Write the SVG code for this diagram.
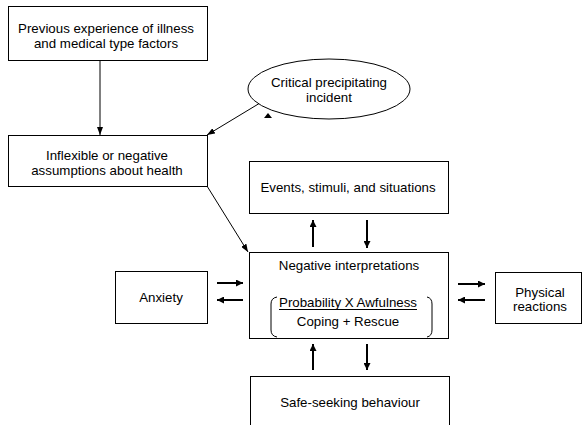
<svg xmlns="http://www.w3.org/2000/svg" width="583" height="425" viewBox="0 0 583 425">
<defs>
<marker id="thin" viewBox="0 0 8 6" refX="8" refY="3" markerWidth="8" markerHeight="6" markerUnits="userSpaceOnUse" orient="auto"><path d="M0,0 L8,3 L0,6 Z" fill="#000"/></marker>
<marker id="thick" viewBox="0 0 7 7" refX="7" refY="3.5" markerWidth="7" markerHeight="7" markerUnits="userSpaceOnUse" orient="auto"><path d="M0,0 L7,3.5 L0,7 Z" fill="#000"/></marker>
</defs>
<style>
.box{fill:#fff;stroke:#000;stroke-width:1}
text{font-family:"Liberation Sans",Arial,sans-serif;font-size:13.3px;fill:#000;text-anchor:middle}
.c{stroke:#000;stroke-width:1;fill:none}
.t{stroke:#000;stroke-width:2;fill:none;marker-end:url(#thick)}
</style>
<rect width="583" height="425" fill="#fff"/>
<g id="connectors">
<line class="c" x1="100" y1="60" x2="100" y2="135" marker-end="url(#thin)"/>
<line class="c" x1="260" y1="103" x2="207" y2="135" marker-end="url(#thin)"/>
<line class="c" x1="207" y1="186" x2="248" y2="252" marker-end="url(#thin)"/>
<polygon points="264,118 268,113 272,118" fill="#000"/>
<line class="t" x1="313" y1="247" x2="313" y2="220"/>
<line class="t" x1="367" y1="220" x2="367" y2="248"/>
<line class="t" x1="217" y1="283" x2="243" y2="283"/>
<line class="t" x1="243" y1="300" x2="217" y2="300"/>
<line class="t" x1="458" y1="284" x2="485" y2="284"/>
<line class="t" x1="485" y1="300" x2="458" y2="300"/>
<line class="t" x1="313" y1="370" x2="313" y2="344"/>
<line class="t" x1="367" y1="344" x2="367" y2="370"/>
</g>
<g id="previous">
<rect class="box" x="8.5" y="6.5" width="199" height="54"/>
<text x="106" y="33">Previous experience of illness</text>
<text x="106" y="48">and medical type factors</text>
</g>
<g id="critical">
<ellipse class="box" cx="329" cy="89" rx="81" ry="30"/>
<text x="329" y="87">Critical precipitating</text>
<text x="329" y="102">incident</text>
</g>
<g id="assumptions">
<rect class="box" x="8.5" y="135.5" width="199" height="51"/>
<text x="107" y="160">Inflexible or negative</text>
<text x="107" y="175">assumptions about health</text>
</g>
<g id="events">
<rect class="box" x="249.5" y="161.5" width="199" height="52"/>
<text x="348" y="192">Events, stimuli, and situations</text>
</g>
<g id="negative">
<rect class="box" x="249.5" y="252.5" width="199" height="86"/>
<text x="349" y="270">Negative interpretations</text>
<text x="348" y="307">Probability X Awfulness</text>
<line x1="279" y1="309.5" x2="417" y2="309.5" stroke="#000" stroke-width="1"/>
<text x="348" y="326">Coping + Rescue</text>
<path class="c" d="M277,297 Q271,298 271,304 L271,330 Q271,336 277,337"/>
<path class="c" d="M427,297 Q432,298 432,304 L432,330 Q432,336 427,337"/>
</g>
<g id="anxiety">
<rect class="box" x="115.5" y="271.5" width="92" height="52"/>
<text x="161" y="302">Anxiety</text>
</g>
<g id="physical">
<rect class="box" x="495.5" y="272.5" width="86" height="51"/>
<text x="540" y="297">Physical</text>
<text x="540" y="311">reactions</text>
</g>
<g id="safe">
<rect class="box" x="250.5" y="376.5" width="199" height="60"/>
<text x="350" y="407">Safe-seeking behaviour</text>
</g>
</svg>
